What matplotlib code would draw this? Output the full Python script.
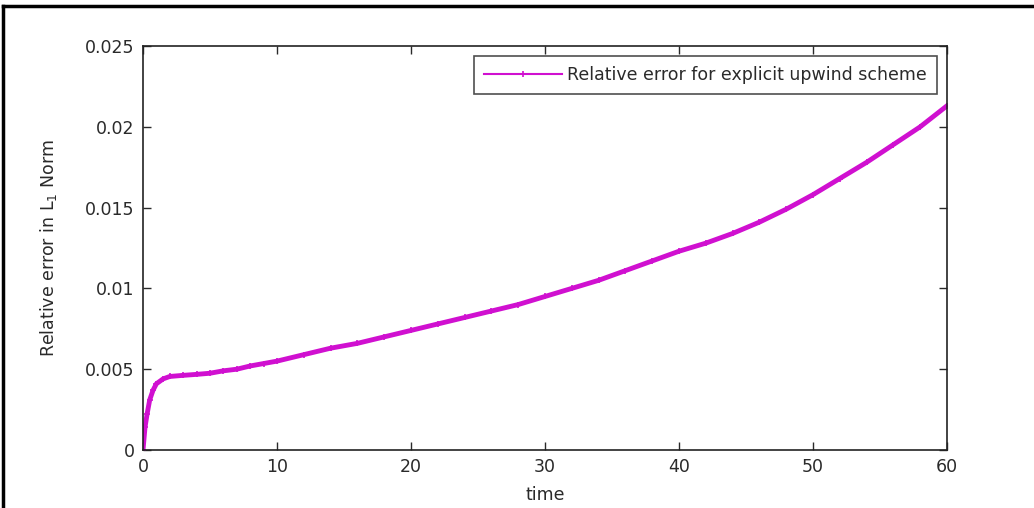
import matplotlib
matplotlib.use("Agg")
import matplotlib.pyplot as plt
from matplotlib.lines import Line2D

plt.rcParams['font.family'] = ['DejaVu Sans']

time = [0, 0.15, 0.3, 0.5, 0.75, 1.0, 1.5, 2.0, 3.0, 4.0, 5.0, 6, 7, 8, 9, 10,
        12, 14, 16, 18, 20, 22, 24, 26, 28, 30, 32, 34, 36, 38, 40, 42, 44, 46,
        48, 50, 52, 54, 56, 58, 60]
rel_error = [0, 0.0014, 0.0022, 0.0031, 0.0037, 0.0041, 0.0044, 0.00455, 0.00462,
             0.00468, 0.00475, 0.0049, 0.0050, 0.0052, 0.00535, 0.0055,
             0.0059, 0.0063, 0.0066, 0.0070, 0.0074, 0.0078, 0.0082, 0.0086,
             0.0090, 0.0095, 0.0100, 0.0105, 0.0111, 0.0117, 0.0123, 0.0128,
             0.0134, 0.0141, 0.0149, 0.0158, 0.0168, 0.0178, 0.0189, 0.0200, 0.0213]
xticks = [0, 10, 20, 30, 40, 50, 60]
yticks = [0, 0.005, 0.01, 0.015, 0.02, 0.025]
ytick_labels = ['0', '0.005', '0.01', '0.015', '0.02', '0.025']

FS = 12.5
fig = plt.figure(figsize=(10.34, 5.08), dpi=100)
ax = fig.add_axes([143/1034, 1-450/508, (947-143)/1034, (450-46)/508])

color = '#d010d0'
ax.plot(time, rel_error, color=color, lw=3.5, marker='+', ms=5, mew=1.2,
        label='Relative error for explicit upwind scheme')

ax.set_xlim(0, 60)
ax.set_ylim(0, 0.025)
ax.set_xticks(xticks)
ax.set_xticklabels([str(v) for v in xticks])
ax.set_yticks(yticks)
ax.set_yticklabels(ytick_labels)
ax.tick_params(direction='in', length=6, width=1, top=True, right=True,
               labelsize=FS, colors='#2a2a2a', pad=6)
for s in ax.spines.values():
    s.set_linewidth(1.2)
    s.set_color('#222222')

ax.set_xlabel('time', fontsize=FS, labelpad=7, color='#2a2a2a')
ax.set_ylabel('Relative error in L$_1$ Norm', fontsize=FS, labelpad=19, color='#2a2a2a')

leg = ax.legend(loc='upper right', fontsize=FS, frameon=True, fancybox=False,
                edgecolor='#222222', borderpad=0.55, handlelength=4.5,
                handletextpad=0.3, borderaxespad=0.6)
leg.get_frame().set_linewidth(1.2)
for h in leg.get_lines():
    h.set_linewidth(1.5)
    h.set_markersize(4)
for t in leg.get_texts():
    t.set_color('#2a2a2a')

fig.add_artist(Line2D([3/1034, 3/1034], [0, 1-6/508], transform=fig.transFigure,
                      color='black', lw=2.5))
fig.add_artist(Line2D([3/1034, 1], [1-6/508, 1-6/508], transform=fig.transFigure,
                      color='black', lw=2.5))

fig.savefig('out.png', dpi=100)
